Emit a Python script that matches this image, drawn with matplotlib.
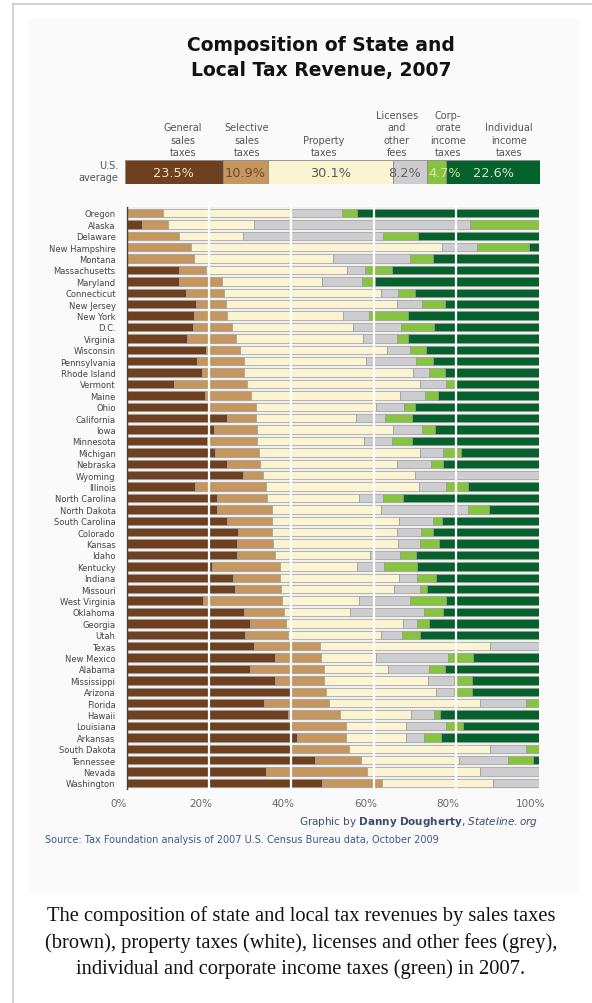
import matplotlib.pyplot as plt
from matplotlib.patches import Rectangle
from matplotlib.lines import Line2D
import matplotlib.transforms as mtransforms

# states, top to bottom
STATES = ['Oregon', 'Alaska', 'Delaware', 'New Hampshire', 'Montana', 'Massachusetts',
          'Maryland', 'Connecticut', 'New Jersey', 'New York', 'D.C.', 'Virginia',
          'Wisconsin', 'Pennsylvania', 'Rhode Island', 'Vermont', 'Maine', 'Ohio',
          'California', 'Iowa', 'Minnesota', 'Michigan', 'Nebraska', 'Wyoming',
          'Illinois', 'North Carolina', 'North Dakota', 'South Carolina', 'Colorado',
          'Kansas', 'Idaho', 'Kentucky', 'Indiana', 'Missouri', 'West Virginia',
          'Oklahoma', 'Georgia', 'Utah', 'Texas', 'New Mexico', 'Alabama',
          'Mississippi', 'Arizona', 'Florida', 'Hawaii', 'Louisiana', 'Arkansas',
          'South Dakota', 'Tennessee', 'Nevada', 'Washington']

# shares in percent, estimated from the graphic
GENERAL = [0, 3.6, 0, 0, 0, 12.7, 12.7, 14.4, 16.8, 16.4, 16.0, 14.6,
           19.2, 17.0, 18.4, 11.6, 18.9, 20.0, 24.3, 21.1, 19.4, 21.5, 24.3, 28.3,
           16.6, 21.9, 22.0, 24.3, 27.1, 26.7, 26.9, 20.6, 25.7, 26.3, 18.5,
           28.6, 30.0, 28.7, 30.9, 36.0, 30.0, 36.0, 39.8, 33.4, 39.1, 39.8, 41.3,
           40.0, 45.7, 33.8, 47.5]
SELECTIVE = [8.7, 6.4, 12.6, 15.5, 16.4, 6.5, 10.5, 9.2, 7.2, 7.9, 9.5, 11.9,
             8.3, 11.6, 10.2, 17.5, 11.2, 11.3, 7.1, 10.6, 12.3, 10.6, 8.1, 4.7,
             17.2, 12.1, 13.2, 10.9, 8.1, 8.9, 9.0, 16.6, 11.5, 11.2, 19.2,
             9.6, 8.6, 10.4, 16.1, 11.1, 17.9, 11.9, 8.5, 15.7, 12.7, 13.4, 11.9,
             14.1, 11.1, 24.5, 14.4]
PROPERTY = [31.0, 20.8, 15.6, 61.0, 33.8, 34.4, 24.3, 38.1, 41.6, 28.2, 29.4, 30.8,
            35.8, 29.5, 41.0, 42.2, 36.3, 29.3, 24.2, 32.9, 26.0, 39.2, 33.2, 36.9,
            37.1, 22.5, 26.6, 31.0, 30.4, 30.4, 23.2, 18.7, 29.0, 27.3, 18.6,
            16.1, 28.6, 22.6, 41.3, 13.5, 15.5, 25.2, 26.8, 36.7, 17.2, 14.6, 14.6,
            34.2, 24.0, 27.4, 27.0]
LICENSES = [12.7, 52.6, 34.1, 8.5, 18.6, 4.3, 9.7, 4.3, 6.1, 6.4, 11.7, 8.4,
            5.5, 12.1, 3.9, 6.2, 6.1, 6.8, 7.2, 7.2, 6.7, 5.4, 8.2, 30.1,
            6.7, 5.8, 21.0, 8.1, 5.9, 5.3, 7.3, 6.6, 4.4, 6.5, 12.4,
            17.9, 3.2, 5.1, 11.7, 17.5, 10.0, 6.5, 4.5, 11.1, 5.7, 9.7, 4.3,
            8.6, 11.7, 14.3, 11.1]
CORPORATE = [3.5, 16.6, 8.4, 12.7, 5.5, 6.5, 3.1, 3.9, 5.5, 9.4, 8.1, 2.7,
             3.9, 4.3, 3.8, 2.5, 3.2, 2.6, 6.4, 3.1, 5.0, 4.5, 3.0, 0,
             5.2, 4.9, 5.2, 2.2, 2.8, 4.6, 3.9, 7.9, 4.5, 1.7, 8.9,
             4.5, 3.0, 4.5, 0, 6.1, 3.8, 4.2, 4.2, 3.1, 1.4, 4.1, 4.3,
             3.1, 6.1, 0, 0]
INDIVIDUAL = [44.1, 0, 29.3, 2.3, 25.7, 35.6, 39.7, 30.1, 22.8, 31.7, 25.3, 31.6,
              27.3, 25.5, 22.7, 20.0, 24.3, 30.0, 30.8, 25.1, 30.6, 18.8, 23.2, 0,
              17.2, 32.8, 12.0, 23.5, 25.7, 24.1, 29.7, 29.6, 24.9, 27.0, 22.4,
              23.3, 26.6, 28.7, 0, 15.8, 22.8, 16.2, 16.2, 0, 23.9, 18.4, 23.6,
              0, 1.4, 0, 0]

US_AVERAGE = [23.5, 10.9, 30.1, 8.2, 4.7, 22.6]
CATEGORIES = ['General\nsales\ntaxes', 'Selective\nsales\ntaxes', 'Property\ntaxes',
              'Licenses\nand\nother\nfees', 'Corp-\norate\nincome\ntaxes',
              'Individual\nincome\ntaxes']
XTICKS = [0, 20, 40, 60, 80, 100]

COLORS = ['#6e4020', '#c6965f', '#faf4d2', '#cdcdd0', '#86c440', '#05622c']
US_TEXT_COLORS = ['#efe3c4', '#6e4a28', '#5a5a55', '#606066', '#d6e89a', '#d5e6d2']
HEADER_X = [183, 247, 324, 397, 448, 509]   # pixel centres of the header labels
US_TEXT_NUDGE = [0, 0, 0, -1.2, 2.0, 0]     # small shifts (in %) to keep labels apart

W, H = 592, 1004
fig = plt.figure(figsize=(W / 100, H / 100), dpi=100)
fig.patch.set_facecolor('white')


def fx(px):
    return px / W


def fy(py):
    return 1 - py / H


# thumbnail frame and light panel
fig.add_artist(Line2D([fx(13), fx(13)], [0, fy(5)], color='#cccccc', lw=1.2))
fig.add_artist(Line2D([fx(13), 1], [fy(5), fy(5)], color='#cccccc', lw=1.2))
fig.add_artist(Rectangle((fx(28), fy(895)), fx(580 - 28), (895 - 20) / H,
                         facecolor='#fafafa', edgecolor='none', zorder=0))

fig.text(fx(321), fy(58), 'Composition of State and\nLocal Tax Revenue, 2007',
         ha='center', va='center', fontsize=13.5, fontweight='bold',
         linespacing=1.35, color='#111111')

# column headers
for lab, x in zip(CATEGORIES, HEADER_X):
    fig.text(fx(x), fy(158), lab, ha='center', va='bottom', fontsize=7,
             color='#555555', linespacing=1.3)

fig.text(fx(118), fy(172), 'U.S.\naverage', ha='right', va='center', fontsize=7,
         color='#555555', linespacing=1.2)

# U.S. average bar
ax_us = fig.add_axes([fx(125), fy(185), fx(540 - 125), 24 / H])
left = 0
for val, col, tcol, nudge in zip(US_AVERAGE, COLORS, US_TEXT_COLORS, US_TEXT_NUDGE):
    ax_us.barh(0, val, left=left, height=1, color=col, edgecolor='#8a8a8a', lw=0.6)
    ax_us.text(left + val / 2 + nudge, 0, f'{val}%', ha='center', va='center',
               fontsize=9.3, color=tcol)
    left += val
ax_us.set_xlim(0, 100)
ax_us.set_ylim(-0.5, 0.5)
ax_us.axis('off')

# state bars
ax = fig.add_axes([fx(126.7), fy(789.7), fx(538.5 - 126.7), (789.7 - 208.3) / H])
ax.set_facecolor('#f0f0f0')
rows = range(len(STATES))
lefts = [0] * len(STATES)
for series, col in zip([GENERAL, SELECTIVE, PROPERTY, LICENSES, CORPORATE, INDIVIDUAL],
                       COLORS):
    ax.barh(rows, series, left=lefts, height=0.72, color=col,
            edgecolor='#9a9a9a', lw=0.5, zorder=2)
    lefts = [a + b for a, b in zip(lefts, series)]

for g in XTICKS[1:-1]:
    ax.axvline(g, color='white', lw=1.6, zorder=3)

ax.set_xlim(0, 100)
ax.set_ylim(len(STATES) - 0.5, -0.5)
ax.set_yticks(list(rows))
ax.set_yticklabels(STATES, fontsize=6, color='#444444',
                   family=['Liberation Sans Narrow', 'DejaVu Sans'])
ax.set_xticks(XTICKS)
ax.set_xticklabels([f'{t}%' for t in XTICKS], fontsize=7.5, color='#666666')
ax.tick_params(axis='both', length=0)
ax.tick_params(axis='y', pad=8)
ax.tick_params(axis='x', pad=7)
shift = mtransforms.ScaledTranslation(-8 / 100, 0, fig.dpi_scale_trans)
for lab in ax.get_xticklabels():
    lab.set_transform(lab.get_transform() + shift)
for side in ['top', 'right', 'bottom']:
    ax.spines[side].set_visible(False)
ax.spines['left'].set_color('#444444')
ax.spines['left'].set_linewidth(1.0)
ax.spines['left'].set_zorder(4)

fig.text(fx(538), fy(822),
         r'Graphic by $\mathbf{Danny\ Dougherty}$, $\mathit{Stateline.org}$',
         ha='right', va='center', fontsize=7.5, color='#3d4d72')
fig.text(fx(45), fy(840),
         'Source: Tax Foundation analysis of 2007 U.S. Census Bureau data, October 2009',
         ha='left', va='center', fontsize=7, color='#3d5a8a')

fig.text(fx(301), fy(943),
         'The composition of state and local tax revenues by sales taxes\n'
         '(brown), property taxes (white), licenses and other fees (grey),\n'
         'individual and corporate income taxes (green) in 2007.',
         ha='center', va='center', fontsize=14.8, family='Liberation Serif',
         linespacing=1.45, color='#111111')

fig.savefig('out.png', dpi=100)
